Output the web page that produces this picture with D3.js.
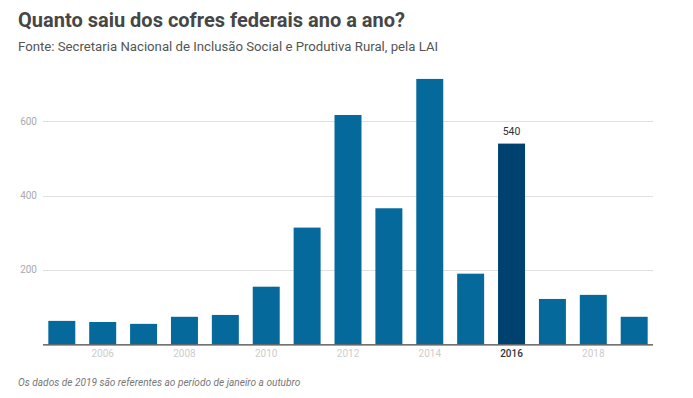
<!DOCTYPE html>
<html>
<head>
<meta charset="utf-8">
<script src="https://cdn.jsdelivr.net/npm/d3@7"></script>
<style>
  body { margin: 0; background: #fff; }
  svg { font-family: Roboto, "Liberation Sans", sans-serif; }
</style>
</head>
<body>
<script>
const years = ["2005", "2006", "2007", "2008", "2009", "2010", "2011", "2012",
               "2013", "2014", "2015", "2016", "2017", "2018", "2019"];
const values = [63, 60, 55, 74, 79, 155, 314, 617, 366, 714, 190, 540, 122, 133, 74];
const yTicks = [200, 400, 600];
const xTickLabels = ["2006", "2008", "2010", "2012", "2014", "2016", "2018"];
const highlightYear = "2016";

const W = 693, H = 398;

const svg = d3.select("body").append("svg")
    .attr("width", W)
    .attr("height", H);

// header
svg.append("text")
    .attr("x", 18).attr("y", 27)
    .style("font-size", "20px")
    .style("font-weight", 700)
    .style("fill", "#464646")
    .text("Quanto saiu dos cofres federais ano a ano?");

svg.append("text")
    .attr("x", 18).attr("y", 51)
    .style("font-size", "13.2px")
    .style("fill", "#555")
    .text("Fonte: Secretaria Nacional de Inclusão Social e Produtiva Rural, pela LAI");

const x = d3.scaleBand()
    .domain(years)
    .range([43, 653])
    .paddingInner(0.34)
    .paddingOuter(0.13);

const y = d3.scaleLinear()
    .domain([0, 600])
    .range([344.3, 121.3]);

// gridlines
svg.append("g")
    .selectAll("line")
    .data(yTicks)
    .enter().append("line")
    .attr("x1", 43).attr("x2", 653)
    .attr("y1", d => Math.round(y(d)) + 0.5)
    .attr("y2", d => Math.round(y(d)) + 0.5)
    .style("stroke", "#e0e0e0")
    .style("stroke-width", 1);

svg.append("g")
    .selectAll("text")
    .data(yTicks)
    .enter().append("text")
    .attr("x", 37)
    .attr("y", d => y(d))
    .attr("dy", "0.35em")
    .style("text-anchor", "end")
    .style("font-size", "10px")
    .style("fill", "#aaa")
    .text(d => d);

// bars
svg.append("g")
    .selectAll("rect")
    .data(years)
    .enter().append("rect")
    .attr("x", d => x(d))
    .attr("width", x.bandwidth())
    .attr("y", (d, i) => y(values[i]))
    .attr("height", (d, i) => y(0) - y(values[i]))
    .style("fill", d => d === highlightYear ? "#00426f" : "#05699c");

// value label on highlighted bar
const hi = years.indexOf(highlightYear);
svg.append("text")
    .attr("x", x(highlightYear) + x.bandwidth() / 2)
    .attr("y", y(values[hi]) - 9)
    .style("text-anchor", "middle")
    .style("font-size", "10.5px")
    .style("fill", "#333")
    .text(values[hi]);

// baseline axis
const xAxis = d3.axisBottom(x)
    .tickValues(xTickLabels)
    .tickSize(0)
    .tickPadding(6);

const ax = svg.append("g")
    .attr("transform", `translate(0, ${y(0)})`)
    .call(xAxis);
ax.select(".domain")
    .attr("d", "M43,0.5H653")
    .style("stroke", "#444")
    .style("stroke-width", 1.3);
ax.selectAll("text")
    .style("font-family", "Roboto, sans-serif")
    .style("font-size", "10px")
    .style("fill", d => d === highlightYear ? "#333" : "#ccc")
    .style("font-weight", d => d === highlightYear ? 500 : 400);

// footnote
svg.append("text")
    .attr("x", 18).attr("y", 386)
    .style("font-size", "10.1px")
    .style("font-style", "italic")
    .style("fill", "#777")
    .text("Os dados de 2019 são referentes ao período de janeiro a outubro");
</script>
</body>
</html>
